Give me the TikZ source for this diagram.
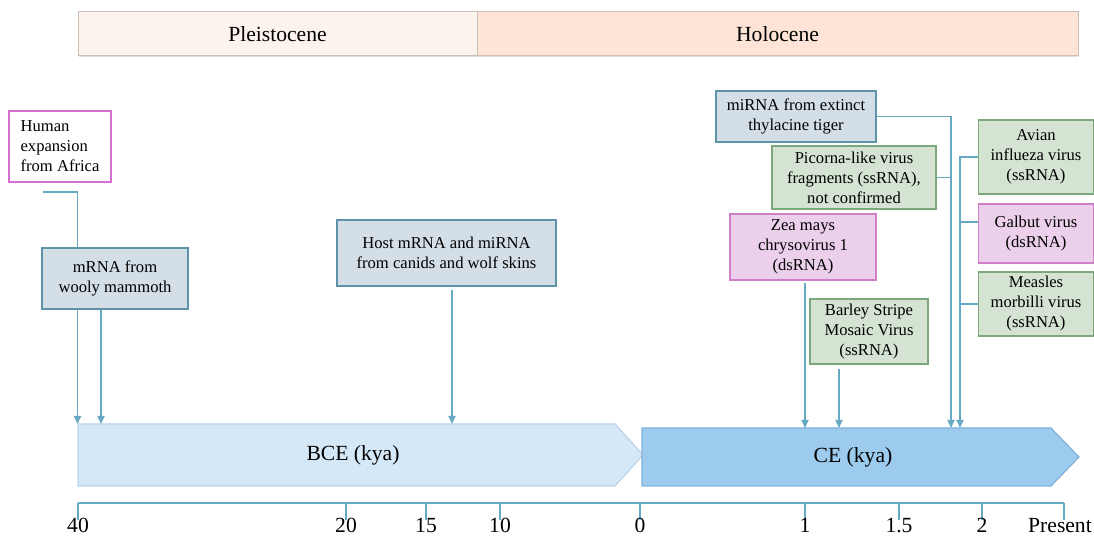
\documentclass[tikz,border=0pt]{standalone}
\usepackage{fontspec}
\setmainfont{Liberation Serif}
\usepackage{xcolor}
\usetikzlibrary{calc, arrows.meta, shadows}

\definecolor{linkBlue}{RGB}{103,169,197}
\definecolor{pleistoFill}{RGB}{253,243,238}
\definecolor{holoFill}{RGB}{253,228,215}
\definecolor{eraLine}{RGB}{205,190,185}
\definecolor{bceFill}{RGB}{213,232,248}
\definecolor{bceLine}{RGB}{188,210,232}
\definecolor{ceFill}{RGB}{157,203,238}
\definecolor{ceLine}{RGB}{128,178,218}
\definecolor{hostFill}{RGB}{211,222,230}
\definecolor{hostLine}{RGB}{95,147,170}
\definecolor{ssFill}{RGB}{212,227,210}
\definecolor{ssLine}{RGB}{122,168,122}
\definecolor{dsFill}{RGB}{235,207,235}
\definecolor{dsLine}{RGB}{205,128,200}
\definecolor{humanLine}{RGB}{214,112,208}

\begin{document}
\begin{tikzpicture}[x=0.5pt, y=-0.5pt,
		bigText/.style={font=\fontsize{10.8}{13}\selectfont},
		eraBar/.style={bigText, draw=eraLine, line width=0.5pt, minimum height=22pt, inner sep=0pt, drop shadow={shadow xshift=0.6pt, shadow yshift=-0.6pt, opacity=0.25}},
		event/.style={align=center, inner sep=0pt, line width=0.7pt, font=\fontsize{8.3}{10}\selectfont, drop shadow={shadow xshift=0.6pt, shadow yshift=-0.6pt, opacity=0.25}},
		hostBox/.style={event, fill=hostFill, draw=hostLine},
		ssBox/.style={event, fill=ssFill, draw=ssLine},
		dsBox/.style={event, fill=dsFill, draw=dsLine},
		link/.style={draw=linkBlue, line width=0.9pt, -{Triangle[length=4pt, width=3.5pt]}},
		wire/.style={draw=linkBlue, line width=0.9pt}]

	\useasboundingbox (0,0) rectangle (1094,539);

	\def\bceTop{424}
	\def\ceTop{428}
	\def\barBot{486}
	\def\axisY{503}
	\def\tickEnd{520}
	\def\labelY{533}

	% eras
	\node [eraBar, fill=pleistoFill, minimum width=199.5pt] (pleisto) at (277.5,34) {Pleistocene};
	\node [eraBar, fill=holoFill, minimum width=300.5pt] (holo) at (777.5,34) {Holocene};

	% timeline arrows
	\draw [fill=bceFill, draw=bceLine, line width=0.6pt] (78,\bceTop) -- (615,\bceTop) -- (643,455) -- (615,\barBot) -- (78,\barBot) -- cycle;
	\node [bigText] (bce) at (353,455) {BCE (kya)};
	\draw [fill=ceFill, draw=ceLine, line width=0.6pt] (642,\ceTop) -- (1051,\ceTop) -- (1079,457) -- (1051,\barBot) -- (642,\barBot) -- cycle;
	\node [bigText] (ce) at (853,457) {CE (kya)};

	\coordinate (hitHuman) at (77.5,\bceTop);
	\coordinate (hitMammoth) at (101,\bceTop);
	\coordinate (hitHost) at (452,\bceTop);
	\coordinate (hitZea) at (805,\ceTop);
	\coordinate (hitBarley) at (839,\ceTop);
	\coordinate (hitTiger) at (951,\ceTop);
	\coordinate (hitAvian) at (960,\ceTop);

	% scale
	\draw [wire] (78,\axisY) -- (1064,\axisY);
	\foreach \x/\lab [count=\i] in {78/40, 346/20, 426/15, 500/10, 640/0, 805/1, 899/1.5, 982/2} {
		\draw [wire] (\x,\axisY) -- (\x,\tickEnd);
		\node [bigText, anchor=base, inner sep=0pt] (tick\i) at (\x,\labelY) {\lab};
	}
	\draw [wire] (1064,\axisY) -- (1064,\tickEnd);
	\node [bigText, anchor=base, inner sep=0pt] (present) at (1060,\labelY) {Present};

	% BCE events
	\node [event, draw=humanLine, fill=white, line width=1.1pt, align=left, minimum width=51pt, minimum height=35.5pt] (human) at (60,146.5) {Human\\expansion\\from Africa};
	\draw [link] ($(human.south)+(-17,9)$) -| (hitHuman);
	\node [hostBox, minimum width=73pt, minimum height=30.5pt] (mammoth) at (115,278.5) {mRNA from\\wooly mammoth};
	\draw [link] (hitMammoth |- mammoth.south) -- (hitMammoth);
	\node [hostBox, minimum width=109.5pt, minimum height=33pt] (host) at (446.5,253) {Host mRNA and miRNA\\from canids and wolf skins};
	\draw [link, shorten <=1.5pt] (hitHost |- host.south) -- (hitHost);

	% CE events
	\node [hostBox, minimum width=80pt, minimum height=25.5pt] (tiger) at (796,116.5) {miRNA from extinct\\thylacine tiger};
	\node [ssBox, minimum width=82pt, minimum height=31.5pt] (picorna) at (854,177.5) {Picorna-like virus\\fragments (ssRNA),\\not confirmed};
	\node [dsBox, minimum width=73pt, minimum height=33pt] (zea) at (803,247) {Zea mays\\chrysovirus 1\\(dsRNA)};
	\node [ssBox, minimum width=59pt, minimum height=32.5pt] (barley) at (869,331.5) {Barley Stripe\\Mosaic Virus\\(ssRNA)};
	\node [ssBox, minimum width=57.5pt, minimum height=37pt] (avian) at (1036,157) {Avian\\influeza virus\\(ssRNA)};
	\node [dsBox, minimum width=57.5pt, minimum height=29.5pt] (galbut) at (1036,233.5) {Galbut virus\\(dsRNA)};
	\node [ssBox, minimum width=57.5pt, minimum height=32pt] (measles) at (1036,304) {Measles\\morbilli virus\\(ssRNA)};

	\draw [link, shorten <=1pt] (hitZea |- zea.south) -- (hitZea);
	\draw [link, shorten <=2pt] (hitBarley |- barley.south) -- (hitBarley);
	\draw [link] (tiger.east) -| (hitTiger);
	\draw [wire] (picorna.east) -- (picorna.east -| hitTiger);
	\draw [link] (avian.west) -| (hitAvian);
	\coordinate (galbutIn) at ([yshift=5.75pt]galbut.west);
	\draw [wire] (galbutIn) -- (galbutIn -| hitAvian);
	\draw [wire] (measles.west) -- (measles.west -| hitAvian);

\end{tikzpicture}
\end{document}
